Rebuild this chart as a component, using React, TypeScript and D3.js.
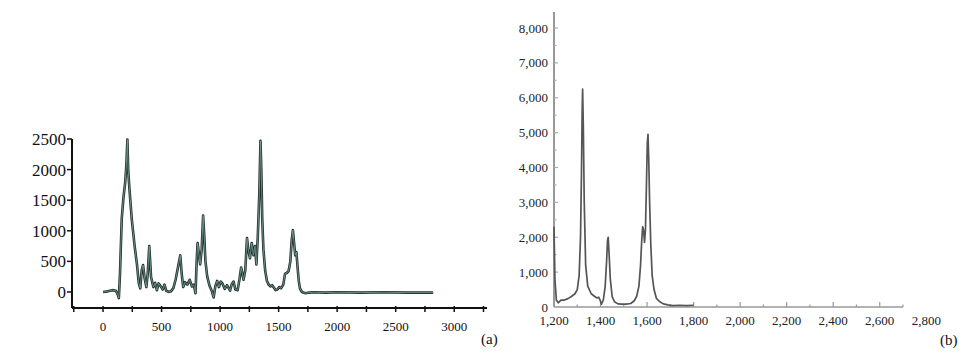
import React from "react";
import * as d3 from "d3";

// (a) spectrum, wavenumber vs intensity
const irX = [0, 40, 80, 110, 125, 135, 145, 160, 175, 190, 200, 208, 215, 225, 245, 270, 290, 305, 318, 330, 342, 355, 370, 382, 395, 410, 430, 445, 460, 475, 490, 510, 525, 540, 560, 580, 600, 620, 640, 660, 672, 685, 700, 720, 740, 760, 775, 790, 800, 808, 820, 830, 843, 855, 865, 875, 890, 910, 930, 945, 960, 975, 990, 1005, 1020, 1040, 1060, 1085, 1100, 1115, 1130, 1150, 1165, 1180, 1200, 1215, 1230, 1240, 1255, 1270, 1285, 1298, 1310, 1322, 1335, 1345, 1352, 1360, 1370, 1385, 1400, 1415, 1430, 1445, 1460, 1475, 1490, 1505, 1520, 1540, 1555, 1570, 1585, 1600, 1612, 1622, 1632, 1642, 1652, 1662, 1672, 1682, 1695, 1710, 1730, 1760, 1800, 1900, 2000, 2200, 2400, 2600, 2820];
const irY = [0, 10, 30, 20, -40, -100, 300, 1200, 1550, 1800, 2100, 2490, 2000, 1700, 1200, 750, 450, 150, 60, 350, 440, 230, 80, 300, 750, 250, 80, 150, 30, 140, 100, 40, 120, 20, 0, 10, 60, 200, 400, 600, 300, 80, 160, 120, 200, 90, 120, -20, 500, 800, 600, 450, 700, 1250, 900, 500, 250, 100, 10, -90, 100, 180, 80, 170, 140, 50, 110, 20, 130, 170, 40, 30, 200, 400, 200, 350, 880, 700, 550, 800, 600, 750, 450, 900, 1600, 2470, 2000, 1200, 700, 350, 180, 120, 90, 110, 70, 30, 40, 80, 60, 120, 300, 310, 340, 500, 850, 1010, 800, 600, 650, 400, 180, 60, 10, -10, -20, -10, -5, -10, -5, -10, -5, -10, -10];
const irXTicks = [0, 500, 1000, 1500, 2000, 2500, 3000];
const irYTicks = [0, 500, 1000, 1500, 2000, 2500];

// (b) Raman spectrum
const ramanX = [1200, 1204, 1210, 1218, 1230, 1245, 1260, 1275, 1290, 1300, 1308, 1314, 1318, 1321, 1323, 1326, 1330, 1336, 1345, 1360, 1375, 1385, 1392, 1398, 1404, 1412, 1420, 1426, 1430, 1433, 1437, 1442, 1450, 1460, 1475, 1490, 1510, 1530, 1545, 1555, 1565, 1572, 1577, 1581, 1585, 1589, 1593, 1597, 1601, 1604, 1607, 1611, 1616, 1622, 1630, 1640, 1655, 1670, 1690, 1710, 1740, 1770, 1800];
const ramanY = [2300, 800, 200, 120, 200, 200, 240, 300, 380, 500, 900, 2000, 3800, 5600, 6250, 5200, 3000, 1200, 600, 380, 300, 260, 280, 200, 80, 200, 600, 1300, 1900, 2000, 1500, 800, 300, 150, 90, 80, 80, 100, 180, 300, 600, 1200, 1900, 2300, 2200, 1850, 2200, 3400, 4700, 4950, 4300, 3000, 1800, 900, 500, 250, 150, 90, 60, 40, 50, 40, 50];
const ramanXTicks = [1200, 1400, 1600, 1800, 2000, 2200, 2400, 2600, 2800];
const ramanYTicks = [0, 1000, 2000, 3000, 4000, 5000, 6000, 7000, 8000];

const serif = "'Liberation Serif', 'DejaVu Serif', serif";

function PanelA() {
  const x = d3.scaleLinear().domain([-265, 3280]).range([72, 487]);
  const y = d3.scaleLinear().domain([-262, 2500]).range([308, 139]);
  const pts = irX.map((v, i) => [v, irY[i]] as [number, number]);
  const line = d3.line<[number, number]>().x(d => x(d[0])).y(d => y(d[1]));
  const minorX = d3.range(-250, 3251, 250);
  return (
    <g>
      <path d={line(pts) || ""} fill="none" stroke="#22302d" strokeWidth={2.6} strokeLinejoin="round" />
      <path d={line(pts) || ""} fill="none" stroke="#7aa39a" strokeWidth={0.8} strokeLinejoin="round" />
      <line x1={x(-265)} x2={x(3280)} y1={y(-262)} y2={y(-262)} stroke="#111" strokeWidth={2} />
      <line x1={x(-265)} x2={x(-265)} y1={y(-262)} y2={y(2500)} stroke="#111" strokeWidth={2} />
      {minorX.map(t => (
        <line key={t} x1={x(t)} x2={x(t)} y1={y(-262) - 2} y2={y(-262) + 4} stroke="#111" strokeWidth={1.5} />
      ))}
      {irYTicks.map(t => (
        <g key={t}>
          <line x1={x(-265) - 5} x2={x(-265)} y1={y(t)} y2={y(t)} stroke="#111" strokeWidth={1.5} />
          <text x={66} y={y(t)} dy="0.35em" textAnchor="end" fontFamily={serif} fontSize={17} fill="#111">{t}</text>
        </g>
      ))}
      {irXTicks.map(t => (
        <text key={t} x={x(t)} y={331} textAnchor="middle" fontFamily={serif} fontSize={13} fill="#111">{t}</text>
      ))}
      <text x={481} y={344} fontFamily={serif} fontSize={15} fill="#111">(a)</text>
    </g>
  );
}

function PanelB() {
  const x = d3.scaleLinear().domain([1200, 2700]).range([554, 903]);
  const y = d3.scaleLinear().domain([0, 8000]).range([307, 28]);
  const pts = ramanX.map((v, i) => [v, ramanY[i]] as [number, number]);
  const line = d3.line<[number, number]>().x(d => x(d[0])).y(d => y(d[1]));
  const minorX = d3.range(1300, 2701, 100);
  const minorY = d3.range(500, 8001, 500);
  return (
    <g>
      <line x1={x(1200)} x2={x(2700)} y1={y(0)} y2={y(0)} stroke="#999" strokeWidth={1.5} />
      <line x1={x(1200)} x2={x(1200)} y1={y(0)} y2={12} stroke="#999" strokeWidth={2} />
      {minorX.map(t => (
        <line key={t} x1={x(t)} x2={x(t)} y1={y(0)} y2={y(0) - (t % 200 === 0 ? 5 : 2.5)} stroke="#999" strokeWidth={1.2} />
      ))}
      {minorY.map(t => (
        <line key={t} x1={x(1200)} x2={x(1200) + (t % 1000 === 0 ? 4 : 2.5)} y1={y(t)} y2={y(t)} stroke="#aaa" strokeWidth={1.2} />
      ))}
      <path d={line(pts) || ""} fill="none" stroke="#555" strokeWidth={1.7} strokeLinejoin="round" />
      {ramanYTicks.map(t => (
        <text key={t} x={548} y={y(t)} dy="0.35em" textAnchor="end" fontFamily={serif} fontSize={13} fill="#222">{d3.format(",")(t)}</text>
      ))}
      {ramanXTicks.map(t => (
        <text key={t} x={x(t)} y={325} textAnchor="middle" fontFamily={serif} fontSize={13} fill="#222">{d3.format(",")(t)}</text>
      ))}
      <text x={940} y={345} fontFamily={serif} fontSize={15} fill="#111">(b)</text>
    </g>
  );
}

export default function App() {
  return (
    <svg width={976} height={360} style={{ position: "absolute", left: 0, top: 0, background: "#fff" }}>
      <PanelA />
      <PanelB />
    </svg>
  );
}
